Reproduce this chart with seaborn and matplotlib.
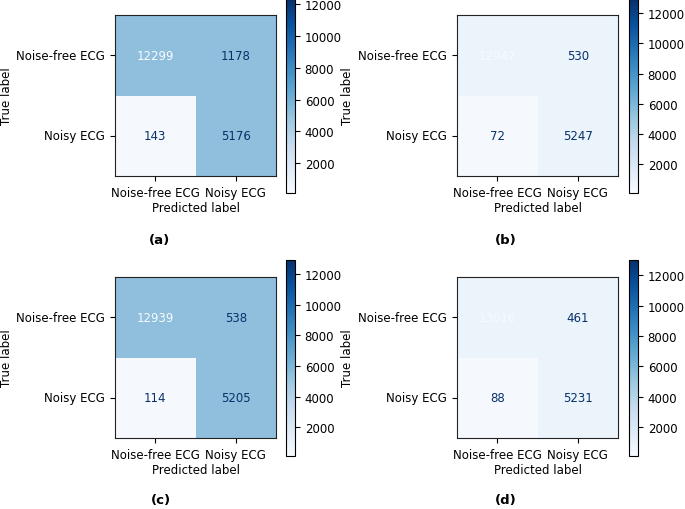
import numpy as np
import matplotlib
matplotlib.use("Agg")
import matplotlib.pyplot as plt
import seaborn as sns
from matplotlib.colors import ListedColormap, BoundaryNorm, Normalize
from matplotlib.cm import ScalarMappable
from matplotlib.transforms import Bbox, TransformedBbox

# class names on both axes
class_labels = ["Noise-free ECG", "Noisy ECG"]

# confusion matrices (rows = true, cols = predicted)
cm_a = [[12299, 1178], [143, 5176]]
cm_b = [[12947, 530], [72, 5247]]
cm_c = [[12939, 538], [114, 5205]]
cm_d = [[13016, 461], [88, 5231]]
panel_tags = ["(a)", "(b)", "(c)", "(d)"]

FS = 8.5
plt.rcParams["font.size"] = FS
plt.rcParams["axes.linewidth"] = 0.8

W, H = 685, 510
fig = plt.figure(figsize=(W / 100, H / 100), dpi=100)


def fx(px):
    return px / W


def fy(py):
    return 1 - py / H


# pixel layout: (ax_left, ax_top, cbar_left, cbar_top, cbar_bottom, tag_x, tag_y, ylabel_right, cell colors)
layout = [
    (115, 16, 286, 0, 194, 159, 241, 13, "#8fbfdd"),
    (457, 16, 629, 0, 194, 506, 241, 354, "#ebf3fb"),
    (115, 278, 286, 261, 457, 161, 501, 13, "#8fbfdd"),
    (457, 278, 629, 261, 457, 506, 501, 354, "#ebf3fb"),
]
low_color = "#f5f9fe"
clip_cax = []

for cm, tag, (axl, axt, cl, ct, cb, tx, ty, yl, hi) in zip(
        [cm_a, cm_b, cm_c, cm_d], panel_tags, layout):
    cm = np.array(cm)
    ax = fig.add_axes([fx(axl), fy(axt + 161), fx(161), 161 / H])
    cmap = ListedColormap([low_color, hi])
    norm = BoundaryNorm([0, 300, 20000], 2)
    sns.heatmap(cm, annot=True, fmt="d", cmap=cmap, norm=norm, cbar=False,
                xticklabels=class_labels, yticklabels=class_labels, ax=ax,
                annot_kws={"fontsize": FS})
    for s in ax.spines.values():
        s.set_visible(True)
        s.set_color("#222222")
    thresh = (cm.max() + cm.min()) / 2
    for t in ax.texts:
        v = int(t.get_text())
        t.set_color("#f7fbff" if v > thresh else "#08306b")
    ax.set_yticklabels(class_labels, rotation=0)
    ax.set_xticklabels(class_labels, rotation=0)
    ax.tick_params(length=3.5, width=0.8)
    ax.set_xlabel("Predicted label", labelpad=2)
    ax.set_ylabel("True label")
    ax.yaxis.set_label_coords((yl - axl) / 161, 0.5)

    cax = fig.add_axes([fx(cl), fy(cb), fx(9), (cb - ct) / H])
    sm = ScalarMappable(norm=Normalize(cm.min(), cm.max()), cmap="Blues")
    cbar = fig.colorbar(sm, cax=cax)
    cbar.set_ticks([2000, 4000, 6000, 8000, 10000, 12000])
    cbar.outline.set_linewidth(0.8)
    cax.tick_params(length=3.5, width=0.8)
    if axl < 300:
        clip_cax.append(cax)

    fig.text(fx(tx), fy(ty), tag, ha="center", va="center",
             fontweight="bold", fontsize=9.5)

# left-column colorbar labels are cut at the column edge, as in the source
fig.canvas.draw()
clip = TransformedBbox(Bbox([[0, 0], [343 / W, 1]]), fig.transFigure)
for cax in clip_cax:
    for tick in cax.yaxis.get_major_ticks():
        tick.label2.set_clip_on(True)
        tick.label2.set_clip_box(clip)

fig.savefig("out.png", dpi=100)
